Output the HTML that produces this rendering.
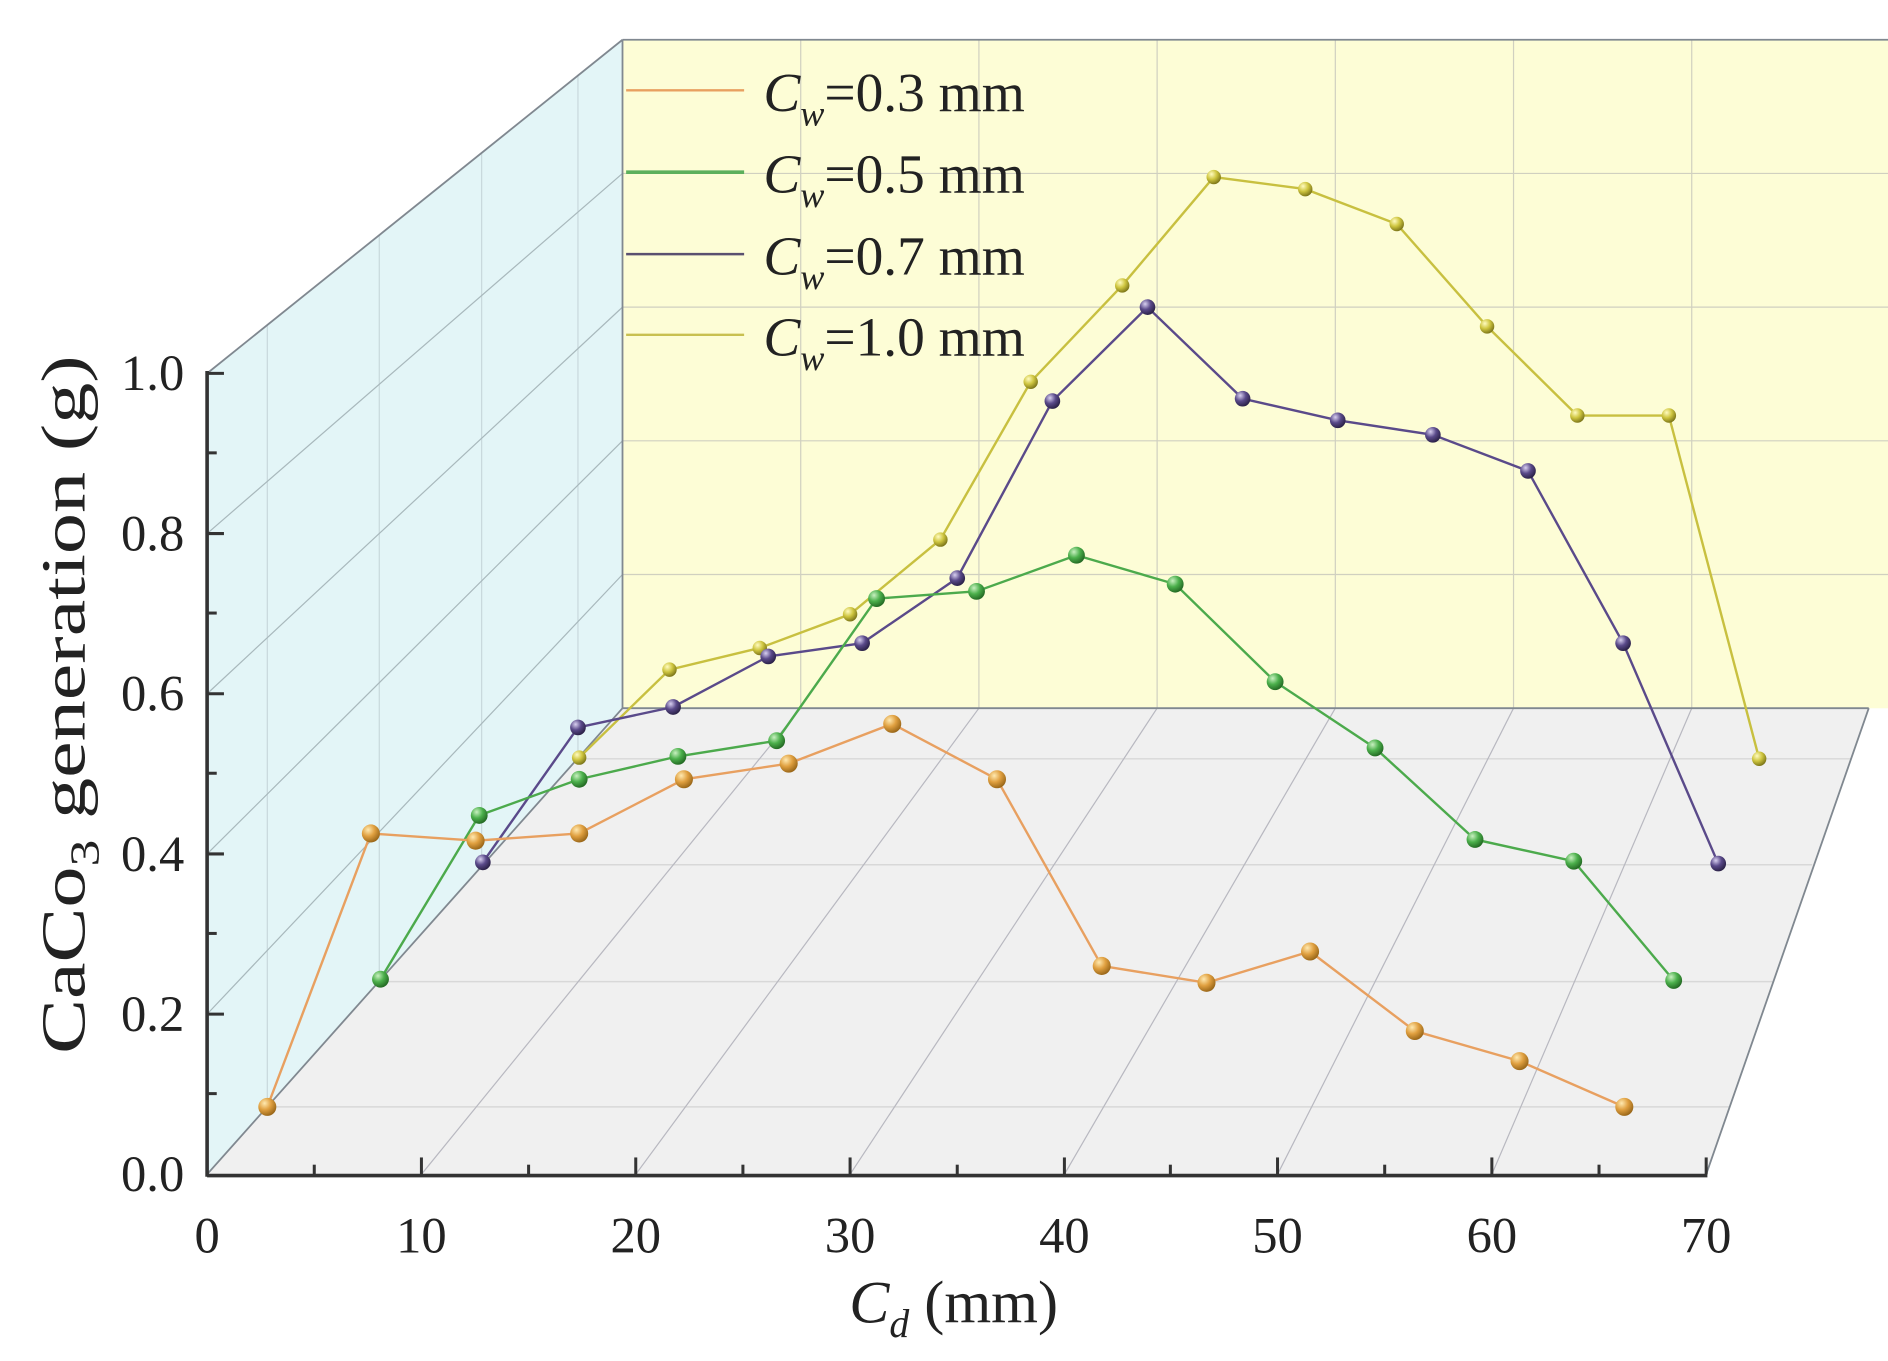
<!DOCTYPE html>
<html><head><meta charset="utf-8"><style>html,body{margin:0;padding:0;background:#fff}svg{display:block}</style></head>
<body>
<svg width="1888" height="1361" viewBox="0 0 1568 1130" preserveAspectRatio="none" xmlns="http://www.w3.org/2000/svg" font-family="Liberation Serif, serif">
<defs>
<radialGradient id="go" cx="0.35" cy="0.3" r="0.8"><stop offset="0" stop-color="#ffe9b0"/><stop offset="0.45" stop-color="#e0a040"/><stop offset="1" stop-color="#8a5a10"/></radialGradient>
<radialGradient id="gg" cx="0.35" cy="0.3" r="0.8"><stop offset="0" stop-color="#c8f0c0"/><stop offset="0.45" stop-color="#4cb04c"/><stop offset="1" stop-color="#1a5a1a"/></radialGradient>
<radialGradient id="gp" cx="0.35" cy="0.3" r="0.8"><stop offset="0" stop-color="#d8d0f0"/><stop offset="0.45" stop-color="#5a4a8a"/><stop offset="1" stop-color="#201838"/></radialGradient>
<radialGradient id="gy" cx="0.35" cy="0.3" r="0.8"><stop offset="0" stop-color="#fffbc0"/><stop offset="0.45" stop-color="#cfc640"/><stop offset="1" stop-color="#6a6410"/></radialGradient>
</defs>
<polygon points="517,33 1568,33 1568,588 517,588" fill="#fdfdd6"/>
<polygon points="172,975 172,310 517,33 517,588" fill="#e3f5f7"/>
<polygon points="172,975 1417,975 1552,588 517,588" fill="#f0f0f0"/>
<g stroke="#d0d0c0" stroke-width="1" fill="none">
<line x1="517" y1="477" x2="1568" y2="477"/><line x1="517" y1="366" x2="1568" y2="366"/>
<line x1="517" y1="255" x2="1568" y2="255"/><line x1="517" y1="144" x2="1568" y2="144"/>
<line x1="665" y1="33" x2="665" y2="588"/><line x1="813" y1="33" x2="813" y2="588"/>
<line x1="961" y1="33" x2="961" y2="588"/><line x1="1109" y1="33" x2="1109" y2="588"/>
<line x1="1257" y1="33" x2="1257" y2="588"/><line x1="1405" y1="33" x2="1405" y2="588"/>
</g>
<g stroke="#c8d8dc" stroke-width="1" fill="none">
<line x1="222" y1="270" x2="222" y2="919"/><line x1="315" y1="195" x2="315" y2="815"/>
<line x1="400" y1="127" x2="400" y2="718"/><line x1="480" y1="63" x2="480" y2="630"/>
</g>
<g stroke="#a8b8bc" stroke-width="1" fill="none">
<line x1="172" y1="842" x2="517" y2="477"/><line x1="172" y1="709" x2="517" y2="366"/>
<line x1="172" y1="576" x2="517" y2="255"/><line x1="172" y1="443" x2="517" y2="144"/>
</g>
<g stroke="#d8d8d8" stroke-width="1.2" fill="none">
<line x1="222" y1="919" x2="1436" y2="919"/><line x1="315" y1="815" x2="1472" y2="815"/>
<line x1="400" y1="718" x2="1505" y2="718"/><line x1="480" y1="630" x2="1537" y2="630"/>
</g>
<g stroke="#b8b8c0" stroke-width="1" fill="none">
<line x1="350" y1="975" x2="665" y2="588"/><line x1="528" y1="975" x2="813" y2="588"/>
<line x1="706" y1="975" x2="961" y2="588"/><line x1="884" y1="975" x2="1109" y2="588"/>
<line x1="1061" y1="975" x2="1257" y2="588"/><line x1="1239" y1="975" x2="1405" y2="588"/>
</g>
<g stroke="#808890" stroke-width="1.5" fill="none">
<line x1="172" y1="310" x2="517" y2="33"/><line x1="517" y1="33" x2="1568" y2="33"/>
<line x1="517" y1="33" x2="517" y2="588"/><line x1="172" y1="975" x2="517" y2="588"/>
<line x1="517" y1="588" x2="1552" y2="588"/><line x1="1417" y1="975" x2="1552" y2="588"/>
</g>
<g stroke="#333" stroke-width="3" fill="none">
<line x1="172" y1="976" x2="1418" y2="976"/><line x1="172" y1="308" x2="172" y2="977"/>
</g>
<g stroke="#333" stroke-width="2.5">
<line x1="172" y1="310" x2="186" y2="310"/><line x1="172" y1="443" x2="186" y2="443"/><line x1="172" y1="576" x2="186" y2="576"/>
<line x1="172" y1="709" x2="186" y2="709"/><line x1="172" y1="842" x2="186" y2="842"/>
<line x1="172" y1="376" x2="180" y2="376"/><line x1="172" y1="509" x2="180" y2="509"/><line x1="172" y1="642" x2="180" y2="642"/>
<line x1="172" y1="775" x2="180" y2="775"/><line x1="172" y1="908" x2="180" y2="908"/>
<line x1="350" y1="975" x2="350" y2="961"/><line x1="528" y1="975" x2="528" y2="961"/><line x1="706" y1="975" x2="706" y2="961"/>
<line x1="884" y1="975" x2="884" y2="961"/><line x1="1061" y1="975" x2="1061" y2="961"/><line x1="1239" y1="975" x2="1239" y2="961"/><line x1="1417" y1="975" x2="1417" y2="961"/>
<line x1="261" y1="975" x2="261" y2="967"/><line x1="439" y1="975" x2="439" y2="967"/><line x1="617" y1="975" x2="617" y2="967"/>
<line x1="795" y1="975" x2="795" y2="967"/><line x1="972" y1="975" x2="972" y2="967"/><line x1="1150" y1="975" x2="1150" y2="967"/><line x1="1328" y1="975" x2="1328" y2="967"/>
</g>
<g font-size="42" fill="#222" text-anchor="end">
<text x="153" y="324">1.0</text><text x="153" y="457">0.8</text><text x="153" y="590">0.6</text>
<text x="153" y="723">0.4</text><text x="153" y="856">0.2</text><text x="153" y="989">0.0</text>
</g>
<g font-size="42" fill="#222" text-anchor="middle">
<text x="172" y="1040">0</text><text x="350" y="1040">10</text><text x="528" y="1040">20</text><text x="706" y="1040">30</text>
<text x="884" y="1040">40</text><text x="1061" y="1040">50</text><text x="1239" y="1040">60</text><text x="1417" y="1040">70</text>
</g>
<text x="792" y="1098" font-size="50" text-anchor="middle" fill="#222"><tspan font-style="italic">C</tspan><tspan font-style="italic" font-size="33" dy="12">d</tspan><tspan dy="-12"> (mm)</tspan></text>
<text transform="translate(70,585) rotate(-90)" font-size="52" text-anchor="middle" fill="#222" textLength="580" lengthAdjust="spacingAndGlyphs">CaCo<tspan font-size="34" dy="12">3</tspan><tspan dy="-12"> generation (g)</tspan></text>
<g stroke-width="2">
<line x1="520" y1="75" x2="618" y2="75" stroke="#e8a060"/><line x1="520" y1="143" x2="618" y2="143" stroke="#5cb05c" stroke-width="3"/>
<line x1="520" y1="211" x2="618" y2="211" stroke="#5a5070"/><line x1="520" y1="278" x2="618" y2="278" stroke="#c8c050"/>
</g>
<g font-size="46" fill="#222">
<text x="634" y="92"><tspan font-style="italic">C</tspan><tspan font-style="italic" font-size="30" dy="12">w</tspan><tspan dy="-12">=0.3 mm</tspan></text>
<text x="634" y="160"><tspan font-style="italic">C</tspan><tspan font-style="italic" font-size="30" dy="12">w</tspan><tspan dy="-12">=0.5 mm</tspan></text>
<text x="634" y="228"><tspan font-style="italic">C</tspan><tspan font-style="italic" font-size="30" dy="12">w</tspan><tspan dy="-12">=0.7 mm</tspan></text>
<text x="634" y="295"><tspan font-style="italic">C</tspan><tspan font-style="italic" font-size="30" dy="12">w</tspan><tspan dy="-12">=1.0 mm</tspan></text>
</g>
<g fill="none" stroke-width="2">
<polyline stroke="#c8c040" points="481,629 556,556 631,538 706,510 781,448 856,317 932,237 1008,147 1084,157 1160,186 1235,271 1310,345 1386,345 1461,630"/>
<polyline stroke="#5a4a8a" points="401,716 480,604 559,587 638,545 716,534 795,480 874,333 953,255 1032,331 1111,349 1190,361 1269,391 1348,534 1427,717"/>
<polyline stroke="#4caa4c" points="316,813 398,677 481,647 563,628 645,615 728,497 811,491 894,461 976,485 1059,566 1142,621 1225,697 1307,715 1390,814"/>
<polyline stroke="#e8a060" points="222,919 308,692 395,698 481,692 568,647 655,634 741,601 828,647 915,802 1002,816 1088,790 1175,856 1262,881 1349,919"/>
</g>
<g fill="url(#gy)">
<circle cx="481" cy="629" r="6"/><circle cx="556" cy="556" r="6"/><circle cx="631" cy="538" r="6"/><circle cx="706" cy="510" r="6"/><circle cx="781" cy="448" r="6"/><circle cx="856" cy="317" r="6"/><circle cx="932" cy="237" r="6"/><circle cx="1008" cy="147" r="6"/><circle cx="1084" cy="157" r="6"/><circle cx="1160" cy="186" r="6"/><circle cx="1235" cy="271" r="6"/><circle cx="1310" cy="345" r="6"/><circle cx="1386" cy="345" r="6"/><circle cx="1461" cy="630" r="6"/>
</g>
<g fill="url(#gp)">
<circle cx="401" cy="716" r="6.5"/><circle cx="480" cy="604" r="6.5"/><circle cx="559" cy="587" r="6.5"/><circle cx="638" cy="545" r="6.5"/><circle cx="716" cy="534" r="6.5"/><circle cx="795" cy="480" r="6.5"/><circle cx="874" cy="333" r="6.5"/><circle cx="953" cy="255" r="6.5"/><circle cx="1032" cy="331" r="6.5"/><circle cx="1111" cy="349" r="6.5"/><circle cx="1190" cy="361" r="6.5"/><circle cx="1269" cy="391" r="6.5"/><circle cx="1348" cy="534" r="6.5"/><circle cx="1427" cy="717" r="6.5"/>
</g>
<g fill="url(#gg)">
<circle cx="316" cy="813" r="7"/><circle cx="398" cy="677" r="7"/><circle cx="481" cy="647" r="7"/><circle cx="563" cy="628" r="7"/><circle cx="645" cy="615" r="7"/><circle cx="728" cy="497" r="7"/><circle cx="811" cy="491" r="7"/><circle cx="894" cy="461" r="7"/><circle cx="976" cy="485" r="7"/><circle cx="1059" cy="566" r="7"/><circle cx="1142" cy="621" r="7"/><circle cx="1225" cy="697" r="7"/><circle cx="1307" cy="715" r="7"/><circle cx="1390" cy="814" r="7"/>
</g>
<g fill="url(#go)">
<circle cx="222" cy="919" r="7.5"/><circle cx="308" cy="692" r="7.5"/><circle cx="395" cy="698" r="7.5"/><circle cx="481" cy="692" r="7.5"/><circle cx="568" cy="647" r="7.5"/><circle cx="655" cy="634" r="7.5"/><circle cx="741" cy="601" r="7.5"/><circle cx="828" cy="647" r="7.5"/><circle cx="915" cy="802" r="7.5"/><circle cx="1002" cy="816" r="7.5"/><circle cx="1088" cy="790" r="7.5"/><circle cx="1175" cy="856" r="7.5"/><circle cx="1262" cy="881" r="7.5"/><circle cx="1349" cy="919" r="7.5"/>
</g>
</svg>
</body></html>
